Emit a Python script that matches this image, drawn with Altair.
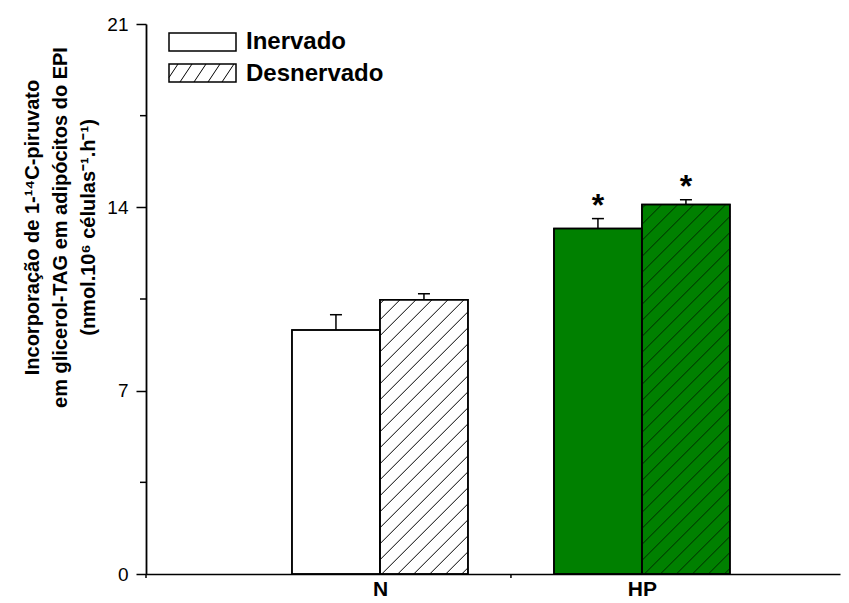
import altair as alt
import pandas as pd

# ---------------- data ----------------
groups = ["N", "HP"]
series = ["Inervado", "Desnervado"]
mean_inervado = [9.32, 13.19]
mean_desnervado = [10.47, 14.11]
err_inervado = [0.58, 0.38]
err_desnervado = [0.23, 0.18]
signif_inervado = [False, True]
signif_desnervado = [False, True]
y_ticks = [0, 7, 14, 21]
y_minor = [3.5, 10.5, 17.5]

# ---------------- layout ----------------
W, H = 694, 550
XMIN, XMAX = 0.107, 2.756
YMIN, YMAX = 0, 21
PXU = W / (XMAX - XMIN)      # pixels per x unit
PYU = H / (YMAX - YMIN)      # pixels per y unit
BAR_W = 88 / PXU
GREEN = "#008000"
FONT = "Liberation Sans"

rows = []
for gi, g in enumerate(groups):
    c = gi + 1
    for si, s in enumerate(series):
        m = (mean_inervado if si == 0 else mean_desnervado)[gi]
        e = (err_inervado if si == 0 else err_desnervado)[gi]
        sig = (signif_inervado if si == 0 else signif_desnervado)[gi]
        x0 = c - BAR_W if si == 0 else c
        x1 = x0 + BAR_W
        rows.append(dict(group=g, series=s, x0=x0, x1=x1, xc=(x0 + x1) / 2,
                         mean=m, top=m + e, sig="*" if sig else "",
                         cap0=(x0 + x1) / 2 - 6 / PXU, cap1=(x0 + x1) / 2 + 6 / PXU,
                         fill="white" if g == "N" else GREEN))
bars = pd.DataFrame(rows)

# hatch lines for Desnervado bars (45 deg in pixel space)
hatch = []
SP = 16
for r in rows:
    if r["series"] != "Desnervado":
        continue
    px0 = (r["x0"] - XMIN) * PXU
    px1 = (r["x1"] - XMIN) * PXU
    ph = r["mean"] * PYU
    c = px0 - ph + 4
    while c < px1:
        a = max(px0, c)
        b = min(px1, c + ph)
        if b - a > 0.5:
            hatch.append(dict(xa=XMIN + a / PXU, xb=XMIN + b / PXU,
                              ya=(a - c) / PYU, yb=(b - c) / PYU,
                              col="black" if r["group"] == "N" else "#002a00"))
        c += SP
hatch = pd.DataFrame(hatch)

xs = alt.Scale(domain=[XMIN, XMAX], nice=False, zero=False)
ys = alt.Scale(domain=[YMIN, YMAX], nice=False)

base = alt.Chart(bars)

bar_layer = base.mark_rect(stroke="black", strokeWidth=1.5).encode(
    x=alt.X("x0:Q", scale=xs, axis=alt.Axis(
        values=[1, 2], labelExpr="datum.value == 1 ? 'N' : 'HP'", ticks=False,
        labelFontSize=21, labelFontWeight="bold", labelFont=FONT, labelColor="black",
        labelPadding=4, domainColor="black", domainWidth=1.6, grid=False, title=None)),
    x2="x1:Q",
    y=alt.Y("mean:Q", scale=ys, axis=alt.Axis(
        values=y_ticks, tickSize=10, tickColor="black", tickWidth=1.5,
        labelFontSize=19, labelFont=FONT, labelColor="black", labelPadding=8,
        domainColor="black", domainWidth=1.8, grid=False,
        title=["Incorporação de 1-¹⁴C-piruvato",
               "em glicerol-TAG em adipócitos do EPI",
               "(nmol.10⁶ células⁻¹.h⁻¹)"],
        titleFont=FONT, titleFontSize=20, titleFontWeight="bold", titleColor="black",
        titleAngle=-90, titleX=-114, titleY=203, titleAlign="center",
        titleBaseline="middle", titleLineHeight=28)),
    y2=alt.datum(0),
    fill=alt.Fill("fill:N", scale=None),
)

hatch_layer = alt.Chart(hatch).mark_rule(strokeWidth=1).encode(
    x=alt.X("xa:Q", scale=xs, axis=None), x2="xb:Q",
    y=alt.Y("ya:Q", scale=ys, axis=None), y2="yb:Q",
    color=alt.Color("col:N", scale=None),
)

outline = base.mark_rect(fillOpacity=0, stroke="black", strokeWidth=1.5).encode(
    x=alt.X("x0:Q", scale=xs, axis=None), x2="x1:Q",
    y=alt.Y("mean:Q", scale=ys, axis=None), y2=alt.datum(0),
)

err_v = base.mark_rule(color="black", strokeWidth=1.5).encode(
    x=alt.X("xc:Q", scale=xs, axis=None),
    y=alt.Y("mean:Q", scale=ys, axis=None), y2="top:Q",
)
err_cap = base.mark_rule(color="black", strokeWidth=1.5).encode(
    x=alt.X("cap0:Q", scale=xs, axis=None), x2="cap1:Q",
    y=alt.Y("top:Q", scale=ys, axis=None),
)
stars = base.mark_text(fontSize=32, fontWeight="bold", font=FONT, color="black",
                       baseline="alphabetic", dy=-3).encode(
    x=alt.X("xc:Q", scale=xs, axis=None),
    y=alt.Y("top:Q", scale=ys, axis=None),
    text="sig:N",
)

minor = alt.Chart(pd.DataFrame({"v": y_minor})).mark_rule(
    color="black", strokeWidth=1.5).encode(
    y=alt.Y("v:Q", scale=ys, axis=None), x=alt.value(-6), x2=alt.value(0))

xtick = alt.Chart(pd.DataFrame({"v": [XMIN, 1.5]})).mark_rule(
    color="black", strokeWidth=1.5).encode(
    x=alt.X("v:Q", scale=xs, axis=None), y=alt.value(H), y2=alt.value(H + 4))

# custom legend
leg_boxes = alt.Chart(pd.DataFrame({"s": series, "ya": [9, 40], "yb": [27, 58]})).mark_rect(
    fill="white", stroke="black", strokeWidth=1.5).encode(
    x=alt.value(23), x2=alt.value(90),
    y=alt.Y("ya:Q", scale=None, axis=None), y2="yb:Q")

lh = []
for k in range(6):
    xa = 20 + k * 14
    xb = xa + 12
    ya, yb = 58, 40
    if xa < 23:
        ya = 58 - (23 - xa) * 18 / 12
        xa = 23
    if xb > 90:
        yb = 40 + (xb - 90) * 18 / 12
        xb = 90
    if xb > xa:
        lh.append(dict(xa=xa, xb=xb, ya=ya, yb=yb))
leg_hatch = alt.Chart(pd.DataFrame(lh)).mark_rule(color="black", strokeWidth=1).encode(
    x=alt.X("xa:Q", scale=None, axis=None), x2="xb:Q",
    y=alt.Y("ya:Q", scale=None, axis=None), y2="yb:Q")

leg_text = alt.Chart(pd.DataFrame({"s": series, "y": [18, 50]})).mark_text(
    fontSize=24, fontWeight="bold", font=FONT, color="black", align="left",
    baseline="middle").encode(
    x=alt.value(100), y=alt.Y("y:Q", scale=None, axis=None), text="s:N")

chart = alt.layer(bar_layer, hatch_layer, outline, err_v, err_cap, stars,
                  minor, xtick, leg_boxes, leg_hatch, leg_text).resolve_axis(
    x="independent", y="independent"
).properties(
    width=W, height=H,
    background="white",
    autosize=alt.AutoSizeParams(type="none"),
    padding={"left": 138, "top": 16, "right": 1, "bottom": 26},
).configure_view(stroke=None)

chart.save("out.html", embed_options={"renderer": "svg", "actions": False})
